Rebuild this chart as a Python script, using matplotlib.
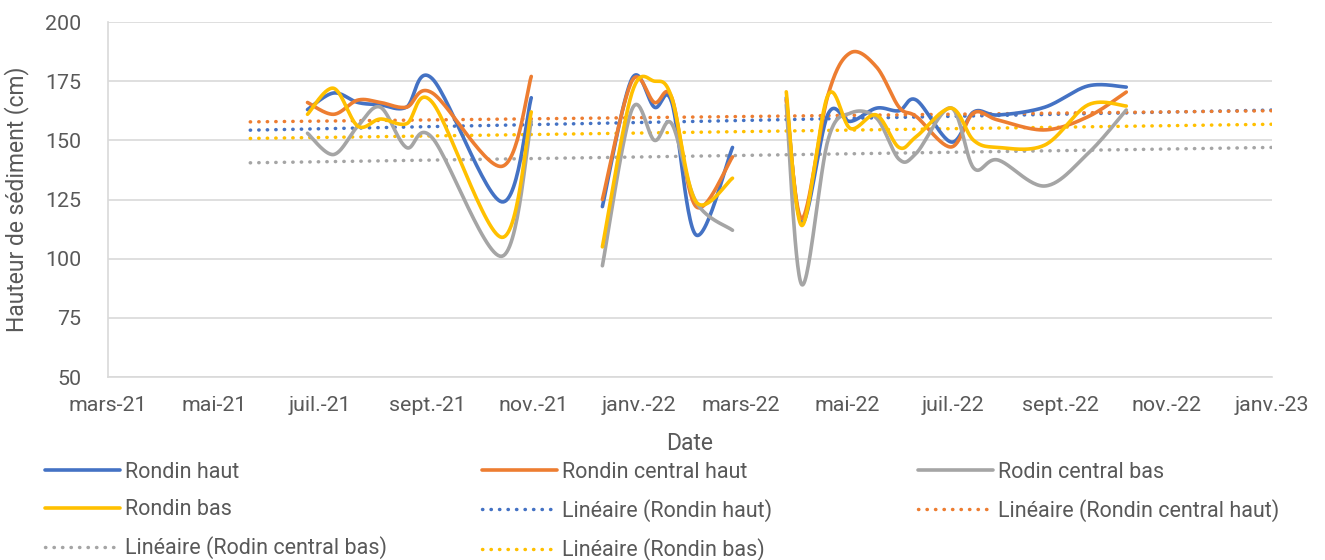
import numpy as np
import matplotlib
matplotlib.use("Agg")
import matplotlib.pyplot as plt
import matplotlib.dates as mdates

# measurement dates (blank rows give the gaps in the curves)
dates = ["2021-06-24", "2021-07-09", "2021-07-23", "2021-08-05", "2021-08-20",
         "2021-09-04", "2021-10-14", "2021-10-31", "2021-11-20",
         "2021-12-11", "2021-12-28", "2022-01-10", "2022-01-20", "2022-02-03",
         "2022-02-24", "2022-03-10",
         "2022-03-27", "2022-04-05", "2022-04-20", "2022-05-03", "2022-05-18",
         "2022-05-31", "2022-06-10", "2022-06-30", "2022-07-13", "2022-07-27",
         "2022-08-23", "2022-09-17", "2022-10-09"]
nan = np.nan
rondin_haut = [163, 170, 166, 165, 164, 176, 124, 168, nan,
               122, 176, 164, 166, 110, 147, nan,
               168, 115, 161, 158, 163.6, 162.5, 167, 149.3, 162, 160.7, 164, 173, 172.5]
rondin_central_haut = [166, 161, 167, 166, 164, 170, 139, 177, nan,
                       125, 175, 166, 168, 122, 143, nan,
                       167, 117, 169, 187, 181, 164, 160, 147.2, 161.6, 158.6, 154.4, 160, 170.4]
rodin_central_bas = [153, 144, 156, 164, 147, 151, 101, 158, nan,
                     97, 163, 150, 157, 124, 112, nan,
                     165, 89, 150, 161.5, 159.4, 142, 144.6, 163.7, 138.3, 141.7, 130.7, 144.5, 162.8]
rondin_bas = [161, 172, 156, 159, 157, 166, 109, 162, nan,
              105, 170, 175, 168, 124, 134, nan,
              170.5, 114, 169, 155, 160.7, 147, 151.6, 163.6, 150, 147, 148, 165, 164.5]

# linear trendlines (value at start and at end)
trend_start = [154.3, 157.8, 140.5, 150.8]
trend_end = [162.8, 162.5, 147.0, 156.8]
trend_from = "2021-05-22"
trend_to = "2023-01-01"

names = ["Rondin haut", "Rondin central haut", "Rodin central bas", "Rondin bas"]
series = [rondin_haut, rondin_central_haut, rodin_central_bas, rondin_bas]
colors = ["#4472C4", "#ED7D31", "#A5A5A5", "#FFC000"]

month_fr = {1: "janv.", 3: "mars", 5: "mai", 7: "juil.", 9: "sept.", 11: "nov."}


def smooth(x, y, n=30):
    # Excel-like smoothed line: cubic Bezier through the points
    xs, ys = [], []
    pts = np.column_stack([x, y])
    m = len(pts)
    for i in range(m - 1):
        p0 = pts[max(i - 1, 0)]
        p1 = pts[i]
        p2 = pts[i + 1]
        p3 = pts[min(i + 2, m - 1)]
        c1 = p1 + (p2 - p0) / 6
        c2 = p2 - (p3 - p1) / 6
        t = np.linspace(0, 1, n)[:, None]
        b = ((1 - t) ** 3) * p1 + 3 * ((1 - t) ** 2) * t * c1 + 3 * (1 - t) * t ** 2 * c2 + t ** 3 * p2
        xs.extend(b[:, 0])
        ys.extend(b[:, 1])
    return np.array(xs), np.array(ys)


plt.rcParams["font.family"] = ["Roboto", "DejaVu Sans"]
fig = plt.figure(figsize=(13.25, 5.6), dpi=100)
ax = fig.add_axes([108 / 1325, 1 - 377 / 560, 1164 / 1325, 355 / 560])

xnum = mdates.date2num(np.array(dates, dtype="datetime64[D]"))
x0 = mdates.date2num(np.datetime64("2021-03-01"))
x1 = mdates.date2num(np.datetime64("2023-01-01"))

handles = {}
for name, vals, c in zip(names, series, colors):
    y = np.array(vals, dtype=float)
    ok = ~np.isnan(y)
    # split on blank rows
    seg = np.cumsum(~ok)
    first = True
    for s in np.unique(seg[ok]):
        idx = ok & (seg == s)
        sx, sy = smooth(xnum[idx], y[idx])
        ln, = ax.plot(sx, sy, color=c, lw=2.6, solid_capstyle="round", zorder=3)
        if first:
            handles[name] = ln
            first = False

tx = mdates.date2num(np.array([trend_from, trend_to], dtype="datetime64[D]"))
for name, a, b, c in zip(names, trend_start, trend_end, colors):
    ln, = ax.plot(tx, [a, b], color=c, lw=2.5,
                  linestyle=(0, (0.1, 2.35)), dash_capstyle="round", zorder=2)
    handles["Linéaire (" + name + ")"] = ln

ax.set_xlim(x0, x1)
ax.set_ylim(50, 200)
ax.set_yticks(np.arange(50, 201, 25))
ticks = [mdates.date2num(np.datetime64(f"{yr}-{mo:02d}-01"))
         for yr, mo in [(2021, 3), (2021, 5), (2021, 7), (2021, 9), (2021, 11),
                        (2022, 1), (2022, 3), (2022, 5), (2022, 7), (2022, 9),
                        (2022, 11), (2023, 1)]]
ax.set_xticks(ticks)
ax.set_xticklabels([month_fr[mdates.num2date(t).month] + "-" + mdates.num2date(t).strftime("%y")
                    for t in ticks])
ax.grid(axis="y", color="#D9D9D9", lw=1.2)
ax.set_axisbelow(True)
for sp in ["top", "right"]:
    ax.spines[sp].set_visible(False)
ax.spines["left"].set_color("#D9D9D9")
ax.spines["bottom"].set_color("#D9D9D9")
ax.spines["left"].set_linewidth(1.2)
ax.spines["bottom"].set_linewidth(1.2)
ax.tick_params(axis="both", length=0, labelsize=15.4, labelcolor="#595959")
ax.tick_params(axis="x", pad=14)
ax.tick_params(axis="y", pad=19)
ax.set_ylabel("Hauteur de sédiment (cm)", fontsize=16.5, color="#595959", labelpad=12)
ax.set_xlabel("Date", fontsize=16.5, color="#595959", labelpad=12)

cols = [["Rondin haut", "Rondin bas", "Linéaire (Rodin central bas)"],
        ["Rondin central haut", "Linéaire (Rondin haut)", "Linéaire (Rondin bas)"],
        ["Rodin central bas", "Linéaire (Rondin central haut)"]]
for i, col in enumerate(cols):
    fig.legend([handles[k] for k in col], col, loc="upper left",
               bbox_to_anchor=([45, 482, 918][i] / 1325, 1 - 462 / 560),
               frameon=False, fontsize=15.5, labelcolor="#595959",
               handlelength=3.5, handletextpad=0.2, labelspacing=0.75,
               borderaxespad=0, borderpad=0)

fig.savefig("out.png", dpi=100)
